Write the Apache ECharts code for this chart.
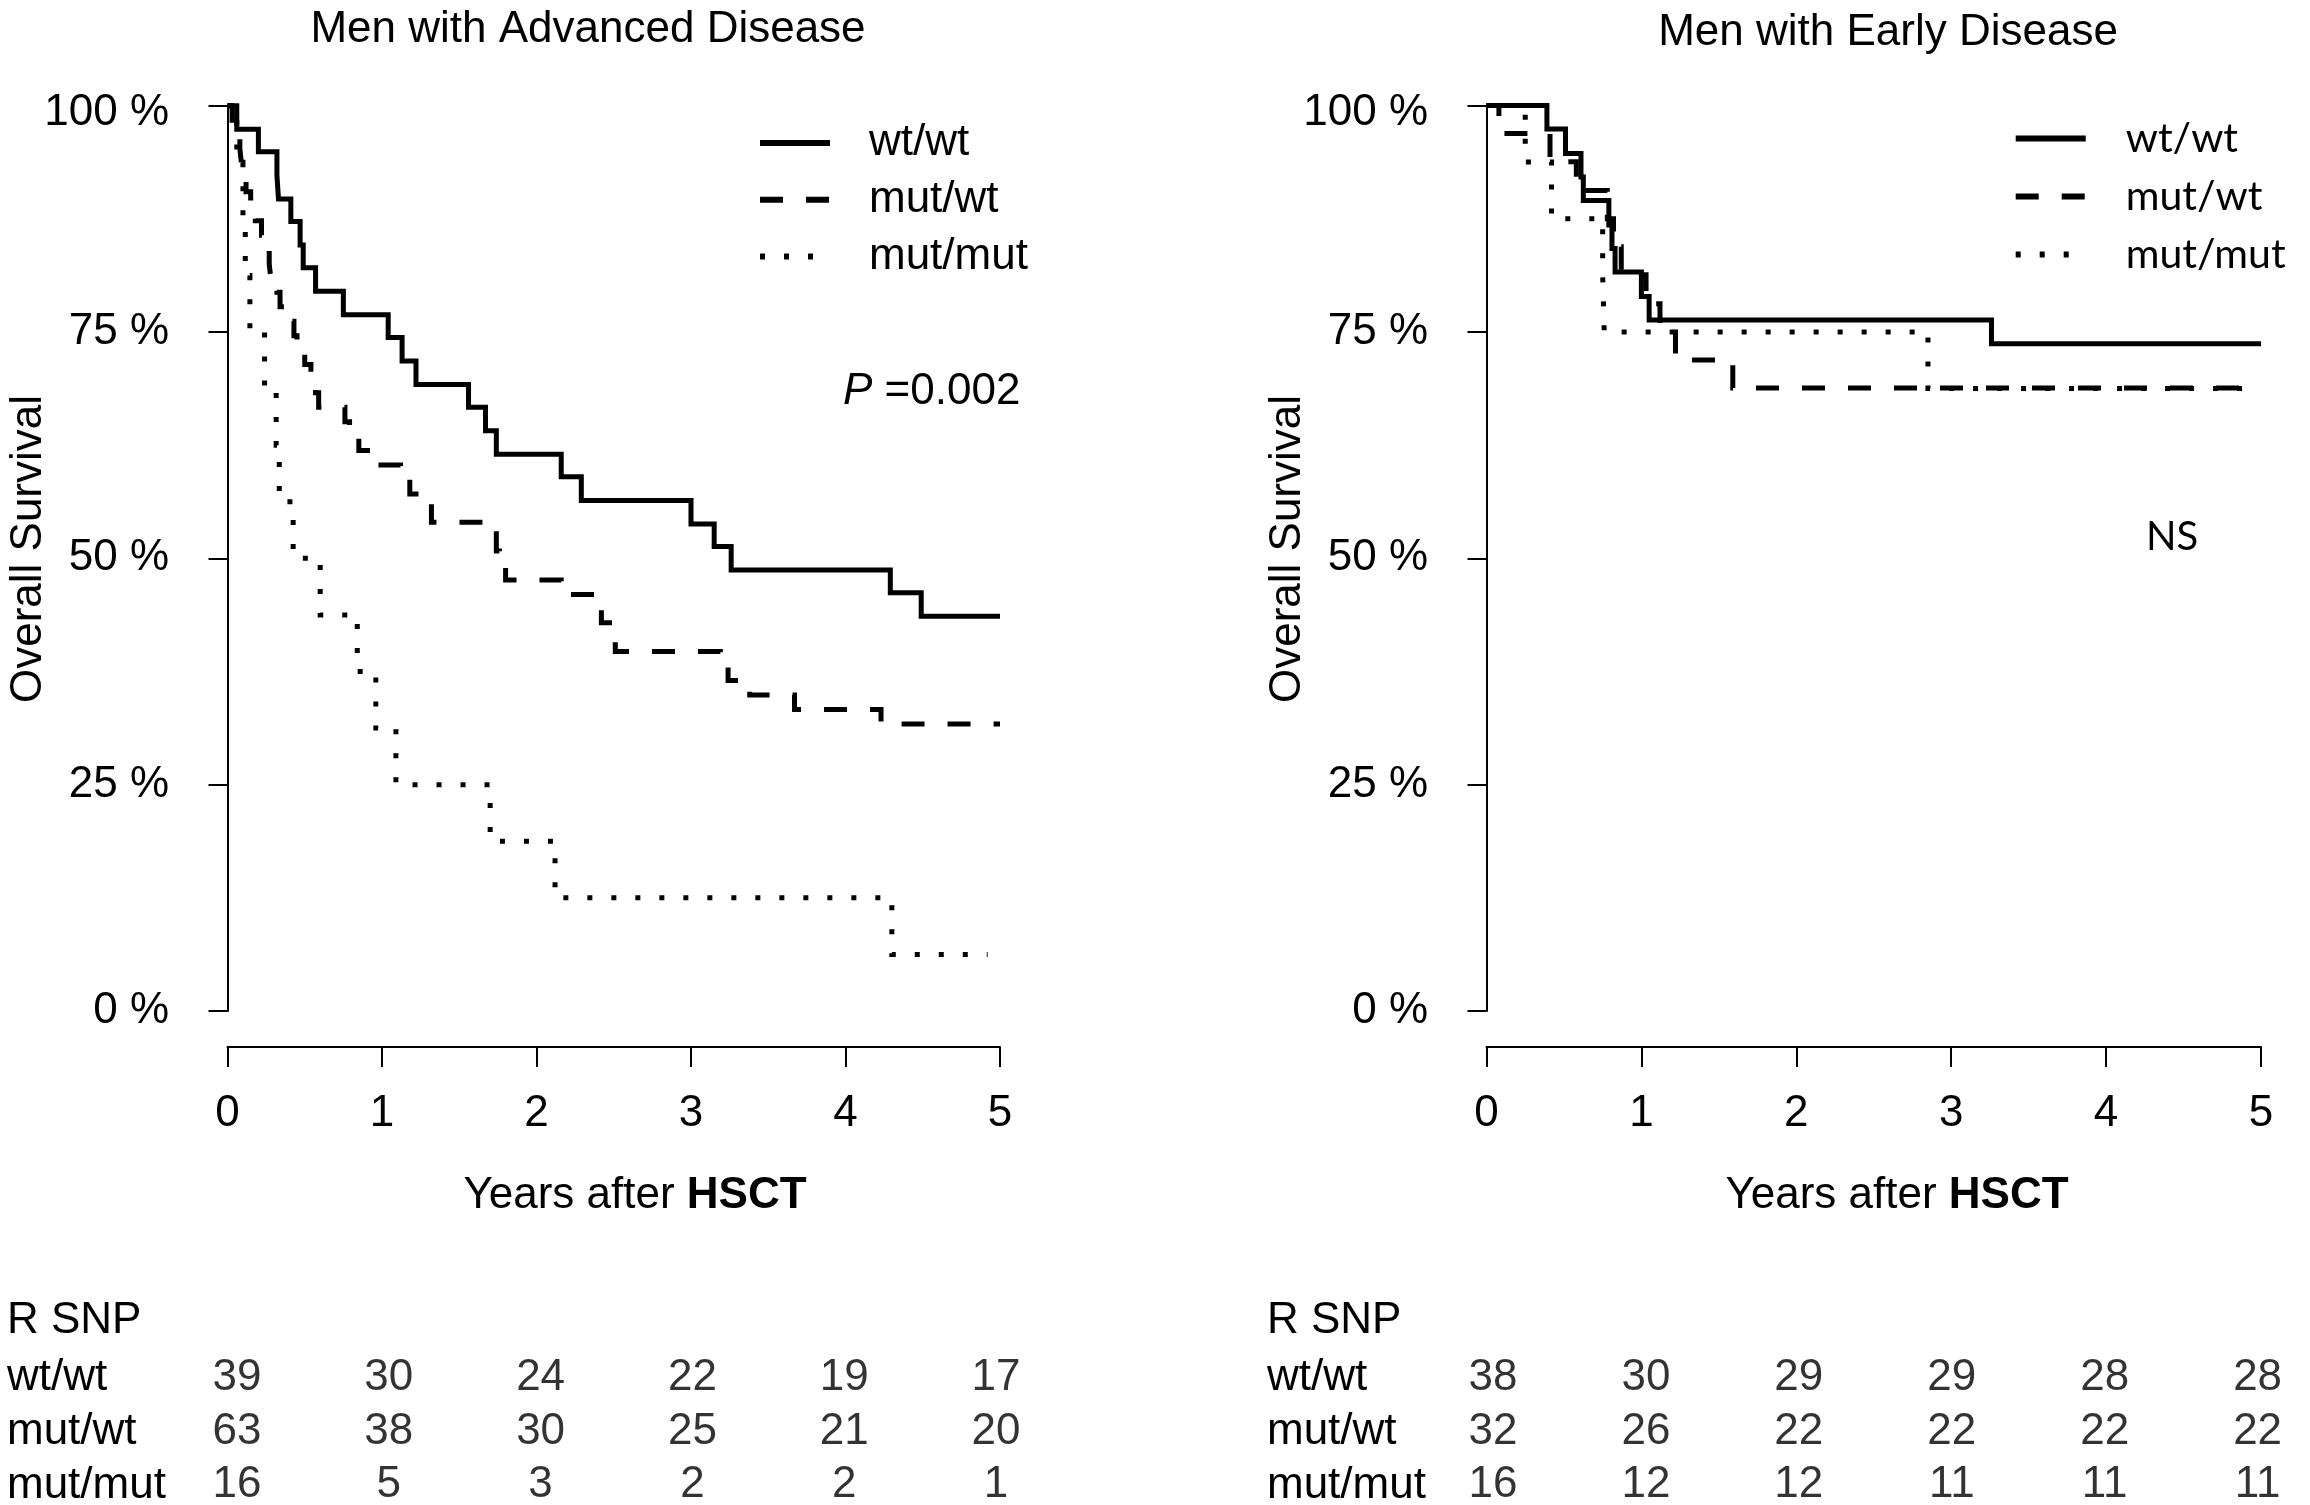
<!DOCTYPE html>
<html><head><meta charset="utf-8">
<script src="https://cdn.jsdelivr.net/npm/echarts@6/dist/echarts.min.js"></script>
<style>html,body{margin:0;padding:0;background:#fff}#c{width:2310px;height:1505px}</style>
</head><body><div id="c"></div>
<script>
// ---- data ----
const years = [0, 1, 2, 3, 4, 5];
const groups = ['wt/wt', 'mut/wt', 'mut/mut'];
const panelTitles = ['Men with Advanced Disease', 'Men with Early Disease'];
const pTexts = ['P =0.002', 'NS'];

// Advanced disease (years, survival %)
const advWtT = [0, 0.06, 0.20, 0.32, 0.33, 0.41, 0.47, 0.49, 0.57, 0.75, 1.04, 1.13, 1.22, 1.56, 1.67, 1.74, 2.16, 2.29, 3.00, 3.15, 3.26, 4.29, 4.49, 5.00];
const advWtS = [100, 97.4, 94.9, 92.3, 89.7, 87.2, 84.6, 82.1, 79.5, 76.9, 74.4, 71.8, 69.2, 66.7, 64.1, 61.5, 59.0, 56.4, 53.8, 51.3, 48.7, 46.2, 43.6, 43.6];
const advMwT = [0, 0.03, 0.06, 0.08, 0.09, 0.10, 0.12, 0.15, 0.18, 0.22, 0.25, 0.27, 0.28, 0.32, 0.34, 0.40, 0.43, 0.45, 0.50, 0.54, 0.57, 0.59, 0.76, 0.79, 0.85, 0.95, 1.12, 1.18, 1.32, 1.74, 1.76, 1.80, 2.16, 2.40, 2.42, 2.49, 2.51, 3.19, 3.24, 3.38, 3.67, 4.23, 5.00];
const advMwS = [100, 98.4, 96.8, 95.2, 93.7, 92.1, 90.5, 88.9, 87.3, 85.7, 84.1, 82.5, 81.0, 79.4, 77.8, 76.2, 74.6, 73.0, 71.4, 69.8, 68.3, 66.7, 65.1, 63.5, 61.9, 60.3, 58.7, 57.1, 54.0, 50.8, 49.2, 47.6, 46.0, 44.4, 42.9, 41.3, 39.7, 38.1, 36.5, 34.9, 33.3, 31.7, 31.7];
const advMmT = [0, 0.06, 0.10, 0.115, 0.145, 0.24, 0.315, 0.335, 0.425, 0.60, 0.84, 0.96, 1.09, 1.70, 2.12, 4.30, 4.92];
const advMmS = [100, 93.75, 87.5, 81.25, 75, 68.75, 62.5, 56.25, 50, 43.75, 37.5, 31.25, 25, 18.75, 12.5, 6.25, 6.25];

// Early disease
const earWtT = [0, 0.39, 0.51, 0.61, 0.625, 0.79, 0.81, 0.83, 1.00, 1.05, 3.26, 5.00];
const earWtS = [100, 97.4, 94.7, 92.1, 89.5, 86.8, 84.2, 81.6, 78.9, 76.3, 73.7, 73.7];
const earMwT = [0, 0.08, 0.41, 0.58, 0.78, 0.82, 0.87, 1.03, 1.12, 1.22, 1.59, 5.00];
const earMwS = [100, 96.9, 93.8, 90.6, 87.5, 84.4, 81.3, 78.1, 75.0, 71.9, 68.8, 68.8];
const earMmT = [0, 0.25, 0.42, 0.75, 0.76, 2.85, 5.00];
const earMmS = [100, 93.75, 87.5, 81.25, 75, 68.75, 68.75];

// Numbers at risk
const advRiskWt = [39, 30, 24, 22, 19, 17];
const advRiskMw = [63, 38, 30, 25, 21, 20];
const advRiskMm = [16, 5, 3, 2, 2, 1];
const earRiskWt = [38, 30, 29, 29, 28, 28];
const earRiskMw = [32, 26, 22, 22, 22, 22];
const earRiskMm = [16, 12, 12, 11, 11, 11];

// ---- chart ----
const F = '"Liberation Sans", Arial, sans-serif';
const F2 = 'Lato, "Open Sans", sans-serif';
const FS = 44;
const BLK = '#000';

function xAx(gi) {
  return { type: 'value', gridIndex: gi, min: 0, max: 5, interval: 1, offset: 36,
    axisLine: { show: true, onZero: false, lineStyle: { color: BLK, width: 2 } },
    axisTick: { show: true, length: 20, lineStyle: { color: BLK, width: 2 } },
    axisLabel: { show: true, color: BLK, fontSize: FS, fontFamily: F, margin: 45 },
    splitLine: { show: false } };
}
function yAx(gi) {
  return { type: 'value', gridIndex: gi, min: 0, max: 100, interval: 25,
    axisLine: { show: true, onZero: false, lineStyle: { color: BLK, width: 2 } },
    axisTick: { show: true, length: 19, lineStyle: { color: BLK, width: 2 } },
    axisLabel: { color: BLK, fontSize: FS, fontFamily: F, margin: 58.5,
      formatter: v => (v === 100 ? '{t|' + v + ' %}' : '{n|' + v + ' %}'),
      rich: { t: { fontSize: FS, fontFamily: F, color: BLK, padding: [14, 0, 0, 0] },
              n: { fontSize: FS, fontFamily: F, color: BLK } } },
    splitLine: { show: false } };
}
function hiddenX(gi) { return { type: 'value', gridIndex: gi, min: 0, max: 5, show: false }; }
function hiddenY(gi) { return { type: 'value', gridIndex: gi, min: 0, max: 2, inverse: true, show: false }; }

const DASH = [23, 23], DOT = [5, 19];
function km(name, T, S, idx, type) {
  return { name, type: 'line', step: 'end', xAxisIndex: idx, yAxisIndex: idx, symbol: 'none',
    clip: false, animation: false, color: BLK,
    itemStyle: { color: BLK },
    data: T.map((t, i) => [t, S[i]]),
    lineStyle: { color: BLK, width: 5, type: type, cap: 'butt', join: 'miter' } };
}
function risk(idx, rows) {
  const data = [];
  rows.forEach((r, ri) => r.forEach((v, ci) => data.push([years[ci], ri, v])));
  return { type: 'scatter', xAxisIndex: idx, yAxisIndex: idx, symbolSize: 1, animation: false,
    itemStyle: { color: 'rgba(0,0,0,0)' }, silent: true, data,
    label: { show: true, position: 'inside', formatter: p => String(p.value[2]),
      color: BLK, fontSize: FS, fontFamily: F } };
}
function txt(x, y, text, o) {
  o = o || {};
  return { type: 'text', x, y, rotation: o.rot || 0, silent: true,
    style: { text, fill: BLK, fontSize: o.fs || FS, fontFamily: o.ff || F, fontWeight: o.fw || 'normal',
      textAlign: o.align || 'left', align: o.align || 'left', textVerticalAlign: 'middle', verticalAlign: 'middle',
      rich: o.rich } };
}

const graphics = [
  txt(588, 30, panelTitles[0], { align: 'center' }),
  txt(1888, 33, panelTitles[1], { align: 'center' }),
  txt(29, 549, 'Overall Survival', { align: 'center', rot: Math.PI / 2 }),
  txt(1288, 549, 'Overall Survival', { align: 'center', rot: Math.PI / 2 }),
  txt(635, 1196, 'Years after {b|HSCT}', { align: 'center', rich: { b: { fontWeight: 'bold', fontSize: FS, fontFamily: F } } }),
  txt(1897, 1196, 'Years after {b|HSCT}', { align: 'center', rich: { b: { fontWeight: 'bold', fontSize: FS, fontFamily: F } } }),
  txt(843, 392, '{i|P} =0.002', { rich: { i: { fontStyle: 'italic', fontSize: FS, fontFamily: F } } }),
  txt(2172, 537, pTexts[1], { align: 'center', ff: F2, fs: 40 }),
  txt(7, 1321, 'R SNP'),
  txt(1267, 1321, 'R SNP')
];
const rowY = [1378, 1432, 1486];
groups.forEach((g, i) => {
  graphics.push(txt(7, rowY[i], g));
  graphics.push(txt(1267, rowY[i], g));
});

function legend(left, top, gap, ff, pad) {
  return { data: groups, orient: 'vertical', left, top, padding: 0, itemWidth: 70, itemHeight: 14, itemGap: gap,
    selectedMode: false, formatter: '{t|{name}}',
    itemStyle: { opacity: 0 },
    lineStyle: { width: 6, color: BLK },
    textStyle: { rich: { t: { fontSize: ff === F ? 44 : 41, fontFamily: ff, color: BLK, padding: [0, 0, 0, pad], lineHeight: 50 } } } };
}

const option = {
  backgroundColor: '#fff',
  animation: false,
  color: [BLK],
  grid: [
    { left: 227.5, top: 105.7, width: 772.5, height: 905.3 },
    { left: 1486.5, top: 105.5, width: 774.5, height: 905.5 },
    { left: 237, top: 1378, width: 759, height: 107 },
    { left: 1493, top: 1378, width: 764.6, height: 107 }
  ],
  xAxis: [xAx(0), xAx(1), hiddenX(2), hiddenX(3)],
  yAxis: [yAx(0), yAx(1), hiddenY(2), hiddenY(3)],
  legend: [legend(757, 121, 12.7, F, 34), legend(2012.7, 118, 17, F2, 35)],
  series: [
    km('wt/wt', advWtT, advWtS, 0, 'solid'),
    km('mut/wt', advMwT, advMwS, 0, DASH),
    km('mut/mut', advMmT, advMmS, 0, DOT),
    km('wt/wt', earWtT, earWtS, 1, 'solid'),
    km('mut/wt', earMwT, earMwS, 1, DASH),
    km('mut/mut', earMmT, earMmS, 1, DOT),
    risk(2, [advRiskWt, advRiskMw, advRiskMm]),
    risk(3, [earRiskWt, earRiskMw, earRiskMm])
  ],
  graphic: graphics
};
const chart = echarts.init(document.getElementById('c'), null, { renderer: 'canvas' });
chart.setOption(option);
</script></body></html>
